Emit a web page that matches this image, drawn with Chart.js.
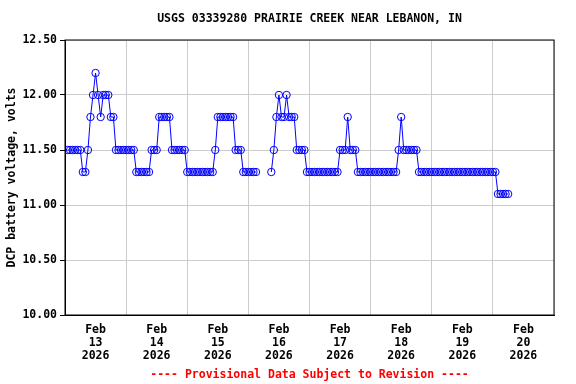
<!DOCTYPE html>
<html>
<head>
<meta charset="UTF-8">
<title>USGS 03339280 PRAIRIE CREEK NEAR LEBANON, IN</title>
<style>
  body { margin: 0; background: #fff; }
  #wrap { width: 576px; height: 384px; }
</style>
</head>
<body>
<div id="wrap"><canvas id="chart" width="576" height="384"></canvas></div>
<script src="https://cdn.jsdelivr.net/npm/chart.js"></script>
<script>
// hourly readings, first one at 01:00 on Feb 13 (hours counted from Feb 13 00:00)
const firstHour = 1;
const volts = [
  11.5, 11.5, 11.5, 11.5, 11.5, 11.5, 11.3, 11.3, 11.5, 11.8, 12.0, 12.2,
  12.0, 11.8, 12.0, 12.0, 12.0, 11.8, 11.8, 11.5, 11.5, 11.5, 11.5, 11.5,
  11.5, 11.5, 11.5, 11.3, 11.3, 11.3, 11.3, 11.3, 11.3, 11.5, 11.5, 11.5,
  11.8, 11.8, 11.8, 11.8, 11.8, 11.5, 11.5, 11.5, 11.5, 11.5, 11.5, 11.3,
  11.3, 11.3, 11.3, 11.3, 11.3, 11.3, 11.3, 11.3, 11.3, 11.3, 11.5, 11.8,
  11.8, 11.8, 11.8, 11.8, 11.8, 11.8, 11.5, 11.5, 11.5, 11.3, 11.3, 11.3,
  11.3, 11.3, 11.3, null, null, null, null, null, 11.3, 11.5, 11.8, 12.0,
  11.8, 11.8, 12.0, 11.8, 11.8, 11.8, 11.5, 11.5, 11.5, 11.5, 11.3, 11.3,
  11.3, 11.3, 11.3, 11.3, 11.3, 11.3, 11.3, 11.3, 11.3, 11.3, 11.3, 11.5,
  11.5, 11.5, 11.8, 11.5, 11.5, 11.5, 11.3, 11.3, 11.3, 11.3, 11.3, 11.3,
  11.3, 11.3, 11.3, 11.3, 11.3, 11.3, 11.3, 11.3, 11.3, 11.3, 11.5, 11.8,
  11.5, 11.5, 11.5, 11.5, 11.5, 11.5, 11.3, 11.3, 11.3, 11.3, 11.3, 11.3,
  11.3, 11.3, 11.3, 11.3, 11.3, 11.3, 11.3, 11.3, 11.3, 11.3, 11.3, 11.3,
  11.3, 11.3, 11.3, 11.3, 11.3, 11.3, 11.3, 11.3, 11.3, 11.3, 11.3, 11.3,
  11.3, 11.1, 11.1, 11.1, 11.1, 11.1
];
const dayMonth = 'Feb';
const dayNums = ['13', '14', '15', '16', '17', '18', '19', '20'];
const dayYear = '2026';
const yTicks = [10.0, 10.5, 11.0, 11.5, 12.0, 12.5];
const titleText = 'USGS 03339280 PRAIRIE CREEK NEAR LEBANON, IN';
const footerText = '---- Provisional Data Subject to Revision ----';

const points = volts.map((v, i) => ({ x: firstHour + i, y: v }));

// ticks every 12 h: midnights carry the grid lines, noons carry the labels
const xTicks = [];
for (let i = 0; i <= dayNums.length * 2; i++) xTicks.push({ value: i * 12 });

const FONT = 'DejaVu Sans Mono';

// plot frame plus title/footer centred over the plot area
const frame = {
  id: 'frame',
  beforeDatasetsDraw(chart) {
    const a = chart.chartArea;
    const ctx = chart.ctx;
    ctx.save();
    ctx.strokeStyle = '#000';
    ctx.lineWidth = 1;
    ctx.strokeRect(a.left, a.top, a.right - a.left, a.bottom - a.top);
    ctx.restore();
  },
  afterDraw(chart) {
    const a = chart.chartArea;
    const ctx = chart.ctx;
    const cx = (a.left + a.right) / 2;
    ctx.save();
    ctx.font = 'bold 11.5px "' + FONT + '"';
    ctx.textAlign = 'center';
    ctx.textBaseline = 'middle';
    ctx.fillStyle = '#000';
    ctx.fillText(titleText, cx, 19.5);
    ctx.fillStyle = '#ff0000';
    ctx.fillText(footerText, cx, 375);
    ctx.restore();
  }
};

new Chart(document.getElementById('chart'), {
  type: 'line',
  data: {
    datasets: [{
      data: points,
      borderColor: '#0000ff',
      borderWidth: 1,
      pointStyle: 'circle',
      pointRadius: 3.7,
      pointBorderWidth: 1,
      pointBorderColor: '#0000ff',
      pointBackgroundColor: 'rgba(0,0,0,0)',
      spanGaps: false,
      tension: 0
    }]
  },
  options: {
    responsive: false,
    animation: false,
    devicePixelRatio: 1,
    layout: { padding: { left: 0, right: 22, top: 40, bottom: 0 } },
    plugins: {
      legend: { display: false },
      tooltip: { enabled: false },
      title: { display: false }
    },
    scales: {
      x: {
        type: 'linear',
        min: 0,
        max: dayNums.length * 24,
        afterBuildTicks(scale) { scale.ticks = xTicks.map(t => ({ value: t.value })); },
        afterFit(scale) { scale.height = 69; },
        grid: {
          drawTicks: false,
          color: c => (c.tick && c.tick.value % 24 === 0) ? '#cccccc' : 'rgba(0,0,0,0)',
          lineWidth: 1
        },
        border: { display: true, color: '#000', width: 1 },
        ticks: {
          autoSkip: false,
          maxRotation: 0,
          padding: 8.5,
          color: '#000',
          font: { family: FONT, size: 11.5, weight: 'bold', lineHeight: 13 / 11.5 },
          callback(value) {
            if (value % 24 !== 12) return '';
            const d = Math.floor(value / 24);
            return [dayMonth, dayNums[d], dayYear];
          }
        }
      },
      y: {
        min: 10,
        max: 12.5,
        afterBuildTicks(scale) { scale.ticks = yTicks.map(v => ({ value: v })); },
        afterFit(scale) { scale.width = 65; },
        grid: {
          color: '#cccccc',
          lineWidth: 1,
          drawTicks: true,
          tickLength: 5,
          tickColor: '#000'
        },
        border: { display: true, color: '#000', width: 1 },
        ticks: {
          padding: 3,
          color: '#000',
          font: { family: FONT, size: 11.5, weight: 'bold' },
          callback: v => v.toFixed(2)
        },
        title: {
          display: true,
          text: 'DCP battery voltage, volts',
          color: '#000',
          font: { family: FONT, size: 11.5, weight: 'bold', lineHeight: 1.2 },
          padding: { top: 5, bottom: 0 }
        }
      }
    }
  },
  plugins: [frame]
});
</script>
</body>
</html>
